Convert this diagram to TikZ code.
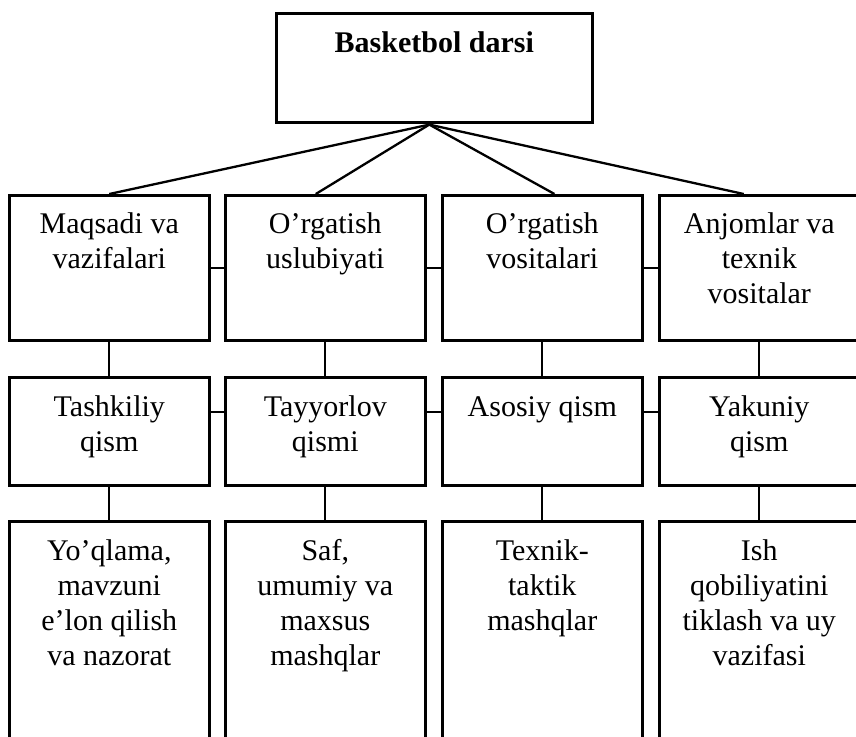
\documentclass[tikz,border=0pt]{standalone}
\usepackage{fontspec}
\setmainfont{Liberation Serif}
\usetikzlibrary{calc}
\begin{document}
\begin{tikzpicture}[x=1pt,y=-1pt,
  box/.style={draw, line width=2.6pt, inner sep=0pt, anchor=north west},
  wide/.style={minimum width=200pt},
  rowA/.style={minimum height=145pt},
  rowB/.style={minimum height=108pt},
  rowC/.style={minimum height=240pt},
  lbl/.style={anchor=north, align=center, inner sep=0pt, font=\fontsize{30}{35}\selectfont},
  conn/.style={line width=2.3pt}]
\useasboundingbox (0,0) rectangle (856,736);
\fill[white] (0,0) rectangle (856,736);
\clip (0,0) rectangle (856,736);
\newcommand{\fs}{\rule{0pt}{24pt}}
% top box
\node[box, minimum width=316pt, minimum height=109pt] (top) at (275,12) {};
\node[lbl, font=\fontsize{30}{35}\selectfont\bfseries] (ttop) at ($(top.north)+(0,16)$) {\fs Basketbol darsi};
% row 1
\node[box, wide, rowA] (b1) at (8,194) {};
\node[box, wide, rowA] (b2) at (224,194) {};
\node[box, wide, rowA] (b3) at (441,194) {};
\node[box, wide, rowA] (b4) at (658,194) {};
% row 2
\node[box, wide, rowB] (b5) at (8,376) {};
\node[box, wide, rowB] (b6) at (224,376) {};
\node[box, wide, rowB] (b7) at (441,376) {};
\node[box, wide, rowB] (b8) at (658,376) {};
% row 3
\node[box, wide, rowC] (b9) at (8,520) {};
\node[box, wide, rowC] (b10) at (224,520) {};
\node[box, wide, rowC] (b11) at (441,520) {};
\node[box, wide, rowC] (b12) at (658,520) {};
% labels
\node[lbl] (t1) at ($(b1.north)+(0,15)$) {\fs Maqsadi va\\vazifalari};
\node[lbl] (t2) at ($(b2.north)+(0,15)$) {\fs O’rgatish\\uslubiyati};
\node[lbl] (t3) at ($(b3.north)+(0,15)$) {\fs O’rgatish\\vositalari};
\node[lbl] (t4) at ($(b4.north)+(0,15)$) {\fs Anjomlar va\\texnik\\vositalar};
\node[lbl] (t5) at ($(b5.north)+(0,16)$) {\fs Tashkiliy\\qism};
\node[lbl] (t6) at ($(b6.north)+(0,16)$) {\fs Tayyorlov\\qismi};
\node[lbl] (t7) at ($(b7.north)+(0,16)$) {\fs Asosiy qism};
\node[lbl] (t8) at ($(b8.north)+(0,16)$) {\fs Yakuniy\\qism};
\node[lbl] (t9) at ($(b9.north)+(0,16)$) {\fs Yo’qlama,\\mavzuni\\e’lon qilish\\va nazorat};
\node[lbl] (t10) at ($(b10.north)+(0,16)$) {\fs Saf,\\umumiy va\\maxsus\\mashqlar};
\node[lbl] (t11) at ($(b11.north)+(0,16)$) {\fs Texnik-\\taktik\\mashqlar};
\node[lbl] (t12) at ($(b12.north)+(0,16)$) {\fs Ish\\qobiliyatini\\tiklash va uy\\vazifasi};
% fan from top
\coordinate (apex) at ($(top.south)+(-5,1)$);
\draw[conn] (apex) -- (b1.north);
\draw[conn] (apex) -- ($(b2.north west)!0.453!(b2.north east)$);
\draw[conn] (apex) -- ($(b3.north west)!0.56!(b3.north east)$);
\draw[conn] (apex) -- ($(b4.north west)!0.423!(b4.north east)$);
% horizontal links row 1
\draw[conn] (b1.east) -- (b2.west);
\draw[conn] (b2.east) -- (b3.west);
\draw[conn] (b3.east) -- (b4.west);
% horizontal links row 2
\draw[conn] ($(b5.north east)!0.324!(b5.south east)$) -- ($(b6.north west)!0.324!(b6.south west)$);
\draw[conn] ($(b6.north east)!0.324!(b6.south east)$) -- ($(b7.north west)!0.324!(b7.south west)$);
\draw[conn] ($(b7.north east)!0.324!(b7.south east)$) -- ($(b8.north west)!0.324!(b8.south west)$);
% vertical links
\draw[conn] (b1.south) -- (b5.north);
\draw[conn] (b2.south) -- (b6.north);
\draw[conn] (b3.south) -- (b7.north);
\draw[conn] (b4.south) -- (b8.north);
\draw[conn] (b5.south) -- (b9.north);
\draw[conn] (b6.south) -- (b10.north);
\draw[conn] (b7.south) -- (b11.north);
\draw[conn] (b8.south) -- (b12.north);
\end{tikzpicture}
\end{document}
